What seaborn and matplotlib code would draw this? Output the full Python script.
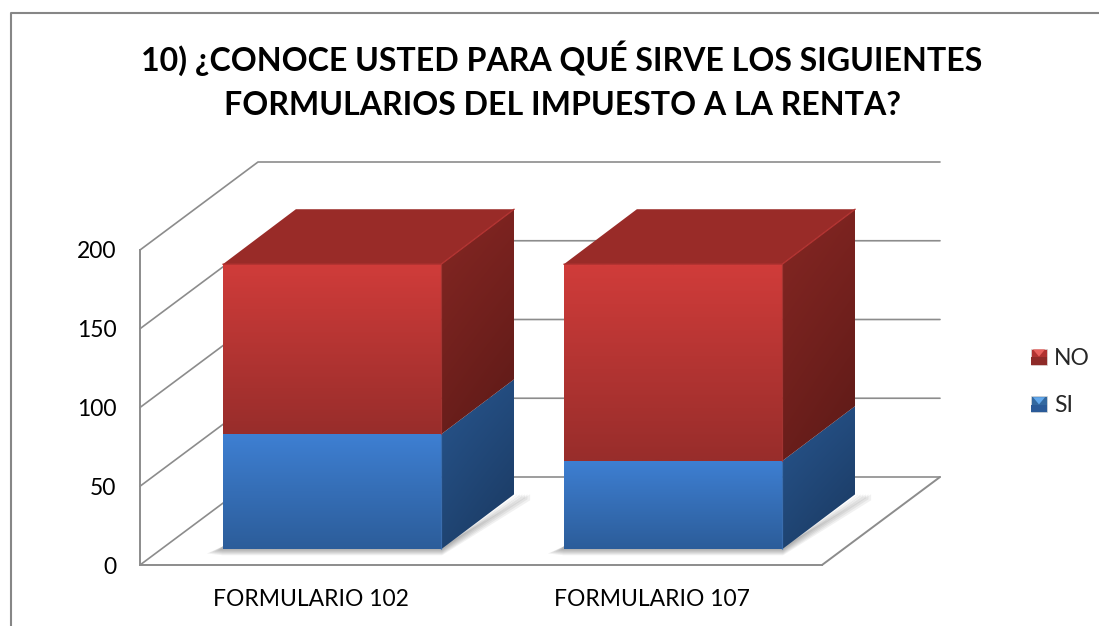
import numpy as np
import matplotlib
matplotlib.use("Agg")
import matplotlib.pyplot as plt
import seaborn as sns
from matplotlib.colors import to_rgb
from matplotlib.lines import Line2D
from matplotlib.patches import Patch, Polygon, Rectangle
from matplotlib.legend_handler import HandlerBase
from matplotlib.transforms import IdentityTransform

# -------------------- DATA --------------------
titulo = "10) ¿CONOCE USTED PARA QUÉ SIRVE LOS SIGUIENTES\nFORMULARIOS DEL IMPUESTO A LA RENTA?"
formularios = ["FORMULARIO 102", "FORMULARIO 107"]
si = [73, 56]
no = [108, 125]
y_ticks = [0, 50, 100, 150, 200]

# -------------------- STYLE --------------------
W, H = 1099, 626
sns.set_style("white")
plt.rcParams["font.family"] = ["Lato", "DejaVu Sans"]

GRID = "#8c8c8c"
WALL_DX, WALL_DY = 118, 88     # depth of the whole box, px
BAR_DX, BAR_DY = 73, 55        # depth of a bar, px
SHIFT_DX, SHIFT_DY = 21.5, 15.7  # bar set back from the front edge, px
FS = 16.5

RED = dict(front=("#d03c3a", "#982d2b"), top="#992b28",
           side=("#852723", "#7c2320", "#6a1e1b", "#5c1a17"), edge="#b23331")
BLUE = dict(front=("#3e7fd2", "#2c5d9a"), top="#27538a",
            side=("#28558d", "#234c7f", "#1f4472", "#1a385f"), edge="#3a75c0")

fig = plt.figure(figsize=(W / 100, H / 100), dpi=100)
ax = fig.add_axes([140 / W, (H - 565) / H, 682 / W, 315 / H])

# -------------------- BARS --------------------
sns.barplot(x=formularios, y=si, color=BLUE["front"][0], width=0.64, saturation=1, ax=ax)
sns.barplot(x=formularios, y=no, bottom=si, color=RED["front"][0], width=0.64, saturation=1, ax=ax)
ax.set_xlim(-0.5, 1.5)
ax.set_ylim(0, 200)
ax.set_autoscale_on(False)
ax.set_yticks(y_ticks)
ax.tick_params(axis="both", length=0, labelsize=FS, colors="black")
ax.tick_params(axis="x", pad=17)
ax.tick_params(axis="y", pad=17)
ax.patch.set_alpha(0)
for s in ["top", "right"]:
    ax.spines[s].set_visible(False)
for s in ["left", "bottom"]:
    ax.spines[s].set_color(GRID)
    ax.spines[s].set_linewidth(1.4)

px = IdentityTransform()


def gradient(points, corners, zorder):
    # corners: top-left, top-right, bottom-left, bottom-right colours
    pts = np.array(points)
    tl, tr, bl, br = [np.array(to_rgb(c)) for c in corners]
    n = 64
    u = np.linspace(0, 1, n)[None, :, None]
    v = np.linspace(0, 1, n)[:, None, None]
    img = (1 - v) * ((1 - u) * tl + u * tr) + v * ((1 - u) * bl + u * br)
    ext = [pts[:, 0].min(), pts[:, 0].max(), pts[:, 1].min(), pts[:, 1].max()]
    im = ax.imshow(img, extent=ext, origin="upper", aspect="auto", transform=px,
                   zorder=zorder, interpolation="bilinear")
    clip = Polygon(pts, closed=True, transform=px, fill=False, edgecolor="none")
    im.set_clip_path(clip)
    im.set_clip_box(fig.bbox)


# -------------------- WALLS AND GRID --------------------
for t in y_ticks:
    x0, y0 = ax.transData.transform((-0.5, t))
    x1, y1 = ax.transData.transform((1.5, t))
    ax.add_line(Line2D([x0, x0 + WALL_DX, x1 + WALL_DX], [y0, y0 + WALL_DY, y1 + WALL_DY],
                       transform=px, color=GRID, lw=1.2, zorder=1, clip_on=False))
x0, y0 = ax.transData.transform((1.5, 0))
ax.add_line(Line2D([x0, x0 + WALL_DX], [y0, y0 + WALL_DY], transform=px, color=GRID, lw=1.4,
                   zorder=1, clip_on=False))

# -------------------- 3D BLOCKS --------------------
n = len(formularios)
patches = list(ax.patches)
blocks = [(patches[i], BLUE) for i in range(n)] + [(patches[n + i], RED) for i in range(n)]
z = {0: 3, 1: 6}

for i in range(n):
    base, _ = blocks[i]
    (xa, ya), (xb, yb) = ax.transData.transform([(base.get_x(), 0),
                                                 (base.get_x() + base.get_width(), 0)])
    xa, xb, ya = xa + SHIFT_DX, xb + SHIFT_DX, ya + SHIFT_DY
    # soft shadow on the floor
    for k in range(6):
        g = 16 - k * 2.6
        d = 6 - k * 1.0
        ax.add_patch(Polygon([(xa, ya + 3), (xa - g, ya - 0.7 * d), (xa, ya - d), (xb + 1, ya - d),
                              (xb + BAR_DX + g, ya + BAR_DY - d), (xb + BAR_DX + g, ya + BAR_DY),
                              (xb, ya + 2)],
                             transform=px, facecolor="black", edgecolor="none", alpha=0.055,
                             zorder=z[i] - 1, clip_on=False))

for idx, (bar, col) in enumerate(blocks):
    i = idx % n
    zz = z[i]
    bar.set_visible(False)
    x = bar.get_x()
    w = bar.get_width()
    b = bar.get_y()
    h = bar.get_height()
    (xa, ya), (xb, yb) = ax.transData.transform([(x, b), (x + w, b + h)])
    xa, xb, ya, yb = xa + SHIFT_DX, xb + SHIFT_DX, ya + SHIFT_DY, yb + SHIFT_DY
    # front face
    gradient([(xa, ya), (xb, ya), (xb, yb), (xa, yb)],
             (col["front"][0], col["front"][0], col["front"][1], col["front"][1]), zz + 1)
    # side face
    gradient([(xb, ya), (xb + BAR_DX, ya + BAR_DY), (xb + BAR_DX, yb + BAR_DY), (xb, yb)],
             col["side"], zz)
    # top face, only the upper stack shows it
    if col is RED:
        ax.add_patch(Polygon([(xa, yb), (xb, yb), (xb + BAR_DX, yb + BAR_DY), (xa + BAR_DX, yb + BAR_DY)],
                             transform=px, facecolor=col["top"], edgecolor="none", zorder=zz, clip_on=False))
        ax.add_line(Line2D([xa, xb, xb + BAR_DX], [yb, yb, yb + BAR_DY], transform=px,
                           color=col["edge"], lw=1.0, zorder=zz + 2, clip_on=False))
    ax.add_line(Line2D([xb, xb], [ya, yb], transform=px, color=col["edge"], lw=0.9, alpha=0.7,
                       zorder=zz + 2, clip_on=False))


# -------------------- LEGEND --------------------
class BevelHandler(HandlerBase):
    def create_artists(self, legend, orig, xd, yd, width, height, fontsize, trans):
        s = 16 * 0.72
        x0 = -xd
        y0 = -yd + (height - s) / 2
        dark, mid, light = orig.bevel
        square = Rectangle((x0, y0), s, s, facecolor=mid, edgecolor="#d9d9d9", lw=0.5, transform=trans)
        low = Rectangle((x0, y0), s, s * 0.45, facecolor=dark, edgecolor="none", transform=trans)
        tri = Polygon([(x0 + 0.12 * s, y0 + s * 0.95), (x0 + 0.88 * s, y0 + s * 0.95), (x0 + s / 2, y0 + s * 0.5)],
                      facecolor=light, edgecolor="none", transform=trans)
        return [square, low, tri]


h_no = Patch(label="NO")
h_no.bevel = ("#8e2a28", "#b03230", "#e8605c")
h_si = Patch(label="SI")
h_si.bevel = ("#2a5a98", "#33689f", "#62a8ec")
fig.legend(handles=[h_no, h_si], handler_map={Patch: BevelHandler()}, frameon=False,
           loc="center left", bbox_to_anchor=(1031 / W, (H - 382) / H), fontsize=FS,
           labelspacing=1.17, handlelength=0.7, handletextpad=0.3, borderpad=0, borderaxespad=0)

# -------------------- TITLE AND FRAME --------------------
fig.text(562 / W, (H - 80) / H, titulo, ha="center", va="center", fontsize=23.1, fontweight="bold",
         linespacing=1.6, color="black")
fig.add_artist(Line2D([11 / W, 11 / W, 1], [0, (H - 12.5) / H, (H - 12.5) / H], color="#868686", lw=1.5))

plt.savefig("out.png", dpi=100)
plt.close()
